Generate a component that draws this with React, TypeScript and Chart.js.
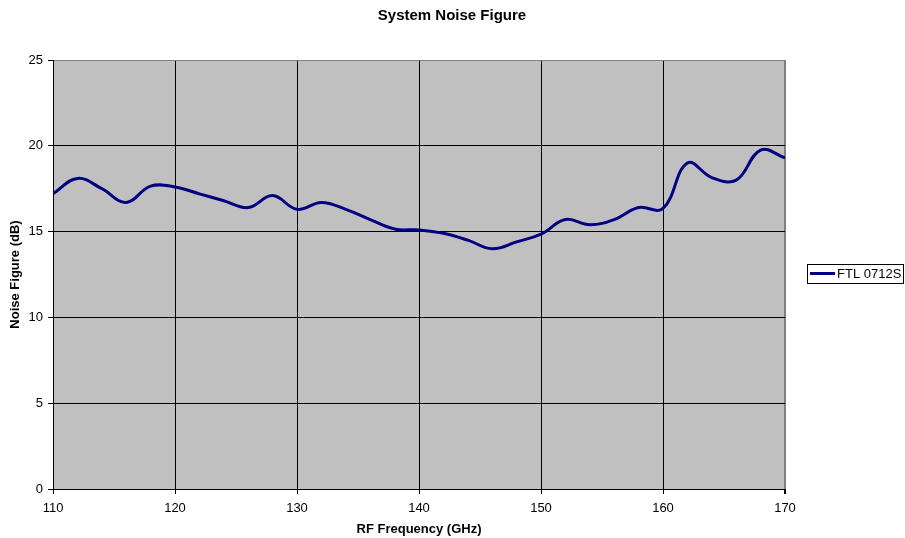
import React, { useEffect, useRef } from "react";
import { Chart, registerables } from "chart.js";

Chart.register(...registerables);

const frequencies = [110, 112, 114, 116, 118, 120, 122, 124, 126, 128, 130, 132, 134, 136, 138, 140, 142, 144, 146, 148, 150, 152, 154, 156, 158, 160, 162, 164, 166, 168, 170];
const noiseFigure = [17.2, 18.1, 17.5, 16.7, 17.65, 17.6, 17.2, 16.8, 16.4, 17.1, 16.3, 16.7, 16.3, 15.7, 15.15, 15.1, 14.9, 14.5, 14.0, 14.4, 14.85, 15.7, 15.4, 15.7, 16.4, 16.35, 19.0, 18.15, 18.0, 19.75, 19.3];
const seriesName = "FTL 0712S";
const chartTitle = "System Noise Figure";
const xTitle = "RF Frequency (GHz)";
const yTitle = "Noise Figure (dB)";

const FONT = "Arial, 'Liberation Sans', sans-serif";

export default function App() {
  const ref = useRef<HTMLCanvasElement | null>(null);

  useEffect(() => {
    document.body.style.margin = "0";
    const canvas = ref.current!;
    const decor = {
      id: "decor",
      beforeDraw(chart: any) {
        const { ctx, chartArea } = chart;
        ctx.save();
        ctx.fillStyle = "#ffffff";
        ctx.fillRect(0, 0, chart.width, chart.height);
        ctx.fillStyle = "#C0C0C0";
        ctx.fillRect(chartArea.left, chartArea.top, chartArea.right - chartArea.left, chartArea.bottom - chartArea.top);
        ctx.restore();
      },
      afterDraw(chart: any) {
        const { ctx } = chart;
        ctx.save();
        // title
        ctx.fillStyle = "#000";
        ctx.font = `bold 15px ${FONT}`;
        ctx.textAlign = "center";
        ctx.textBaseline = "middle";
        ctx.fillText(chartTitle, 452, 16);
        // legend
        ctx.fillStyle = "#fff";
        ctx.fillRect(807, 264, 97, 20);
        ctx.strokeStyle = "#000";
        ctx.lineWidth = 1;
        ctx.strokeRect(807.5, 264.5, 96, 19);
        ctx.strokeStyle = "#000080";
        ctx.lineWidth = 3;
        ctx.beginPath();
        ctx.moveTo(810, 273.5);
        ctx.lineTo(835, 273.5);
        ctx.stroke();
        ctx.fillStyle = "#000";
        ctx.font = `13px ${FONT}`;
        ctx.textAlign = "left";
        ctx.textBaseline = "middle";
        ctx.fillText(seriesName, 837, 274);
        ctx.restore();
      },
    };

    const chart = new Chart(canvas, {
      type: "line",
      data: {
        datasets: [
          {
            label: seriesName,
            data: frequencies.map((f, i) => ({ x: f, y: noiseFigure[i] })),
            borderColor: "#000080",
            borderWidth: 3,
            pointRadius: 0,
            tension: 0.4,
            fill: false,
          },
        ],
      },
      options: {
        animation: false,
        responsive: false,
        devicePixelRatio: 1,
        layout: { padding: { left: 0, right: 120, top: 60, bottom: 0 } },
        plugins: { legend: { display: false }, title: { display: false }, tooltip: { enabled: false } },
        scales: {
          x: {
            type: "linear",
            min: 110,
            max: 170,
            ticks: { stepSize: 10, color: "#000", font: { family: FONT, size: 13 }, padding: 7 },
            grid: {
              color: (c: any) => (c.tick && c.tick.value === 170 ? "#808080" : "#000"),
              lineWidth: (c: any) => (c.tick && c.tick.value === 170 ? 2 : 1),
              tickLength: 5,
              tickColor: "#000",
            },
            border: { color: "#000", width: 1 },
            title: { display: true, text: xTitle, color: "#000", font: { family: FONT, size: 13, weight: "bold" }, padding: { top: 0, bottom: 1 } },
            afterFit: (s: any) => { s.height = 49; },
          },
          y: {
            min: 0,
            max: 25,
            ticks: { stepSize: 5, color: "#000", font: { family: FONT, size: 13 }, padding: 5 },
            grid: {
              color: (c: any) => (c.tick && c.tick.value === 25 ? "#808080" : "#000"),
              lineWidth: 1,
              tickLength: 5,
              tickColor: "#000",
            },
            border: { color: "#000", width: 1 },
            title: { display: true, text: yTitle, color: "#000", font: { family: FONT, size: 13, weight: "bold" }, padding: { top: 8, bottom: 0 } },
            afterFit: (s: any) => { s.width = 53; },
          },
        },
      },
      plugins: [decor],
    } as any);
    return () => chart.destroy();
  }, []);

  return (
    <div style={{ width: 905, height: 538 }}>
      <canvas ref={ref} width={905} height={538} style={{ display: "block", width: 905, height: 538 }} />
    </div>
  );
}
